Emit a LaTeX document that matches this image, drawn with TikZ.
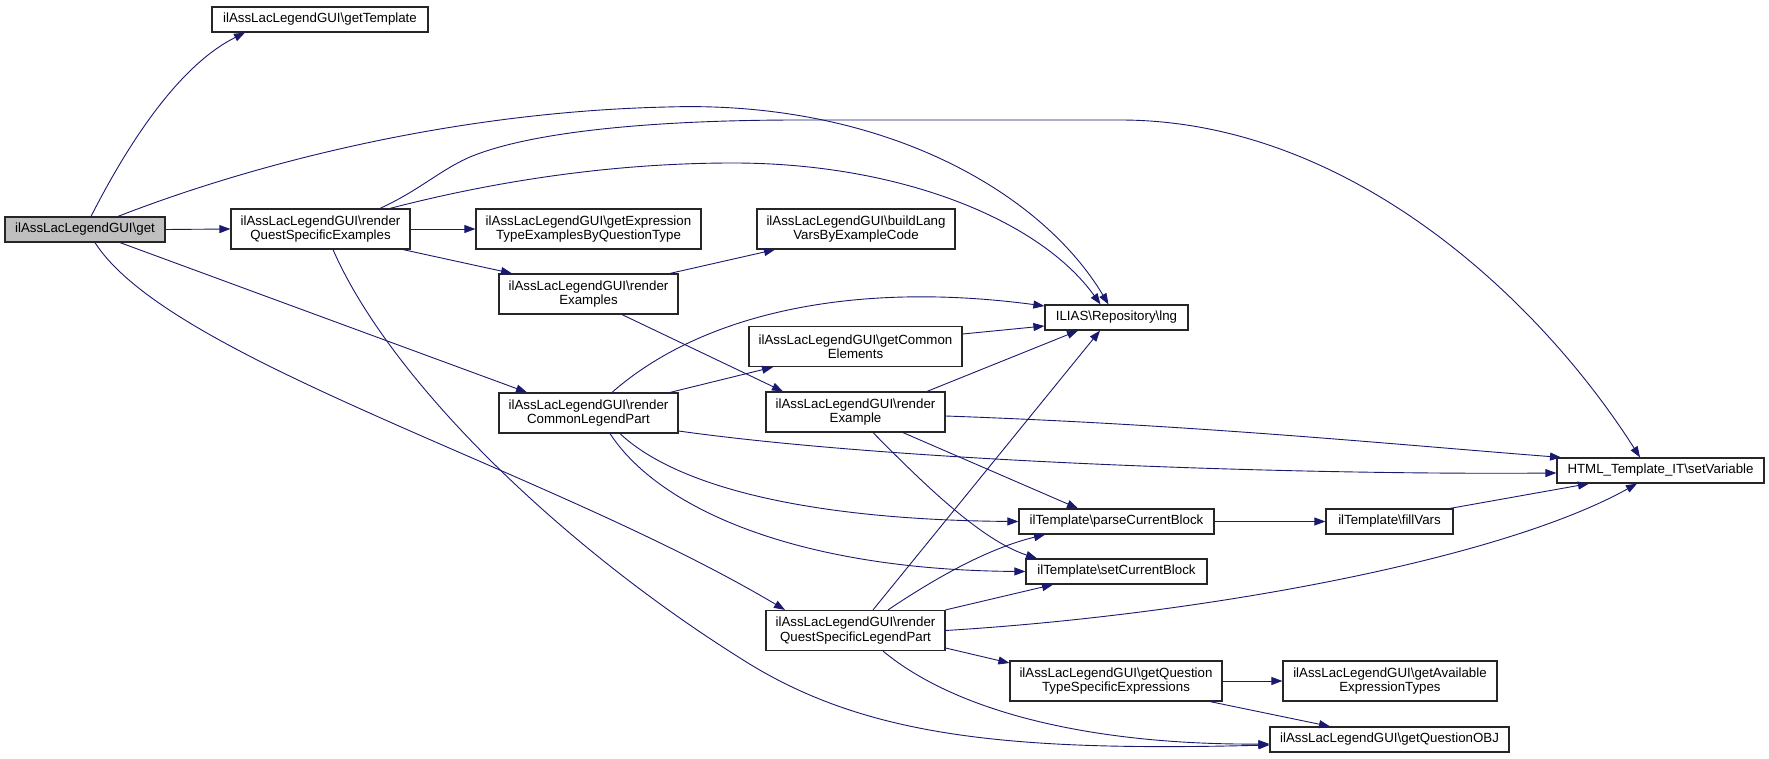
\documentclass[tikz,border=0pt]{standalone}
\usepackage{fontspec}
\setmainfont{Liberation Sans}
\usetikzlibrary{arrows.meta}
\definecolor{edgeblue}{HTML}{191970}
\definecolor{rootgray}{HTML}{BFBFBF}
\tikzset{
  fn/.style={draw=black!85, line width=1.2pt, rectangle, inner sep=0pt, align=center,
    font=\fontsize{13.3}{14.5}\selectfont},
  edge/.style={draw=edgeblue, line width=0.9pt, -{Triangle[length=11pt,width=8pt]}},
}
\begin{document}
\begin{tikzpicture}[x=1pt,y=-1pt]
\fill[white] (0,0) rectangle (1769,759);
\useasboundingbox (0,0) rectangle (1769,759);
% nodes
\node[fn, fill=rootgray, minimum width=160pt, minimum height=25pt] (get) at (85,229.5) {ilAssLacLegendGUI\textbackslash get};
\node[fn, minimum width=216pt, minimum height=25pt] (getTemplate) at (320,19.5) {ilAssLacLegendGUI\textbackslash getTemplate};
\node[fn, minimum width=179pt, minimum height=40pt] (rqse) at (320.5,229) {ilAssLacLegendGUI\textbackslash render\\QuestSpecificExamples};
\node[fn, minimum width=225pt, minimum height=40pt] (getExpr) at (588.5,229) {ilAssLacLegendGUI\textbackslash getExpression\\TypeExamplesByQuestionType};
\node[fn, minimum width=198pt, minimum height=40pt] (buildLang) at (856,229) {ilAssLacLegendGUI\textbackslash buildLang\\VarsByExampleCode};
\node[fn, minimum width=179pt, minimum height=40pt] (rex) at (588.5,294) {ilAssLacLegendGUI\textbackslash render\\Examples};
\node[fn, minimum width=143pt, minimum height=25pt] (lng) at (1116.5,317.5) {ILIAS\textbackslash Repository\textbackslash lng};
\node[fn, minimum width=213pt, minimum height=40pt] (getCommon) at (855.5,346.5) {ilAssLacLegendGUI\textbackslash getCommon\\Elements};
\node[fn, minimum width=179pt, minimum height=40pt] (rclp) at (588.5,413) {ilAssLacLegendGUI\textbackslash render\\CommonLegendPart};
\node[fn, minimum width=179pt, minimum height=40pt] (rexa) at (855.5,412) {ilAssLacLegendGUI\textbackslash render\\Example};
\node[fn, minimum width=207pt, minimum height=25pt] (setVar) at (1660.5,470.5) {HTML\_Template\_IT\textbackslash setVariable};
\node[fn, minimum width=195pt, minimum height=25pt] (parse) at (1116.5,521.5) {ilTemplate\textbackslash parseCurrentBlock};
\node[fn, minimum width=127pt, minimum height=25pt] (fill) at (1389.5,521.5) {ilTemplate\textbackslash fillVars};
\node[fn, minimum width=181pt, minimum height=25pt] (setCur) at (1116.5,571.5) {ilTemplate\textbackslash setCurrentBlock};
\node[fn, minimum width=179pt, minimum height=40pt] (rqslp) at (855.5,630.5) {ilAssLacLegendGUI\textbackslash render\\QuestSpecificLegendPart};
\node[fn, minimum width=212pt, minimum height=40pt] (getQTSE) at (1116,681) {ilAssLacLegendGUI\textbackslash getQuestion\\TypeSpecificExpressions};
\node[fn, minimum width=214pt, minimum height=40pt] (getAvail) at (1390,681) {ilAssLacLegendGUI\textbackslash getAvailable\\ExpressionTypes};
\node[fn, minimum width=239pt, minimum height=25pt] (getQOBJ) at (1389.5,739.5) {ilAssLacLegendGUI\textbackslash getQuestionOBJ};
% edges from get
\draw[edge] ([xshift=6pt]get.north) .. controls (130,140) and (180,65) .. ([xshift=-75pt]getTemplate.south);
\draw[edge] ([xshift=33pt]get.north) .. controls (250,165) and (450,112) .. (667,107) .. controls (880,100) and (1040,190) .. ([xshift=-8pt]lng.north);
\draw[edge] (get.east) -- (rqse.west);
\draw[edge] ([xshift=35pt]get.south) -- ([xshift=-61.5pt]rclp.north);
\draw[edge] ([xshift=10pt]get.south) .. controls (170,360) and (550,470) .. ([xshift=-70.5pt]rqslp.north);
% edges from rqse
\draw[edge] ([xshift=59.5pt]rqse.north) .. controls (420,190) and (440,170) .. (470,157) .. controls (530,132) and (650,120) .. (800,120) -- (1120,120) .. controls (1350,120) and (1540,300) .. ([xshift=-20.5pt]setVar.north);
\draw[edge] ([xshift=69.5pt]rqse.north) .. controls (480,185) and (600,163) .. (733,163) .. controls (900,163) and (1040,220) .. ([xshift=-16pt]lng.north);
\draw[edge] (rqse.east) -- (getExpr.west);
\draw[edge] ([xshift=82.5pt]rqse.south) -- ([xshift=-76.5pt]rex.north);
\draw[edge] ([xshift=12.5pt]rqse.south) .. controls (390,380) and (560,545) .. (740,658) .. controls (860,735) and (1000,752) .. ([yshift=-5.5pt]getQOBJ.west);
% edges from rex
\draw[edge] ([xshift=81.5pt]rex.north) -- ([xshift=-81pt]buildLang.south);
\draw[edge] ([xshift=33.5pt]rex.south) -- ([xshift=-72.5pt]rexa.north);
% edges from rclp
\draw[edge] ([xshift=81.5pt]rclp.north) -- ([xshift=-82.5pt]getCommon.south);
\draw[edge] ([xshift=23.5pt]rclp.north) .. controls (700,315) and (850,280) .. ([yshift=11.5pt]lng.west);
\draw[edge] ([yshift=-18pt]rclp.east) .. controls (900,462) and (1300,475) .. ([yshift=-2.5pt]setVar.west);
\draw[edge] ([xshift=31.5pt]rclp.south) .. controls (680,490) and (820,520) .. (parse.west);
\draw[edge] ([xshift=21.5pt]rclp.south) .. controls (660,510) and (800,570) .. (setCur.west);
% getCommon
\draw[edge] ([yshift=12.5pt]getCommon.east) -- ([yshift=-8.5pt]lng.west);
% edges from rexa
\draw[edge] ([xshift=71.5pt]rexa.north) -- ([xshift=-38.5pt]lng.south);
\draw[edge] ([yshift=-4pt]rexa.east) .. controls (1200,425) and (1400,445) .. ([xshift=-99.5pt]setVar.north);
\draw[edge] ([xshift=47.5pt]rexa.south) -- ([xshift=-38.5pt]parse.north);
\draw[edge] ([xshift=17.5pt]rexa.south) .. controls (920,480) and (980,540) .. ([xshift=-79.5pt]setCur.north);
% parse, fill
\draw[edge] (parse.east) -- (fill.west);
\draw[edge] ([xshift=60.5pt]fill.north) -- ([xshift=-71.5pt]setVar.south);
% edges from rqslp
\draw[edge] ([xshift=17.5pt]rqslp.north) -- ([xshift=-16.5pt]lng.south);
\draw[edge] ([xshift=32.5pt]rqslp.north) .. controls (940,575) and (990,548) .. ([xshift=-71.5pt]parse.south);
\draw[edge] (rqslp.north east) -- ([xshift=-63.5pt]setCur.south);
\draw[edge] (rqslp.east) .. controls (1200,615) and (1500,560) .. ([xshift=-23.5pt]setVar.south);
\draw[edge] ([yshift=-17.5pt]rqslp.east) -- ([yshift=18pt]getQTSE.west);
\draw[edge] ([xshift=27.5pt]rqslp.south) .. controls (960,715) and (1100,745) .. ([yshift=-4.5pt]getQOBJ.west);
% getQTSE
\draw[edge] (getQTSE.east) -- (getAvail.west);
\draw[edge] ([xshift=94pt]getQTSE.south) -- ([xshift=-59.5pt]getQOBJ.north);
\end{tikzpicture}
\end{document}
